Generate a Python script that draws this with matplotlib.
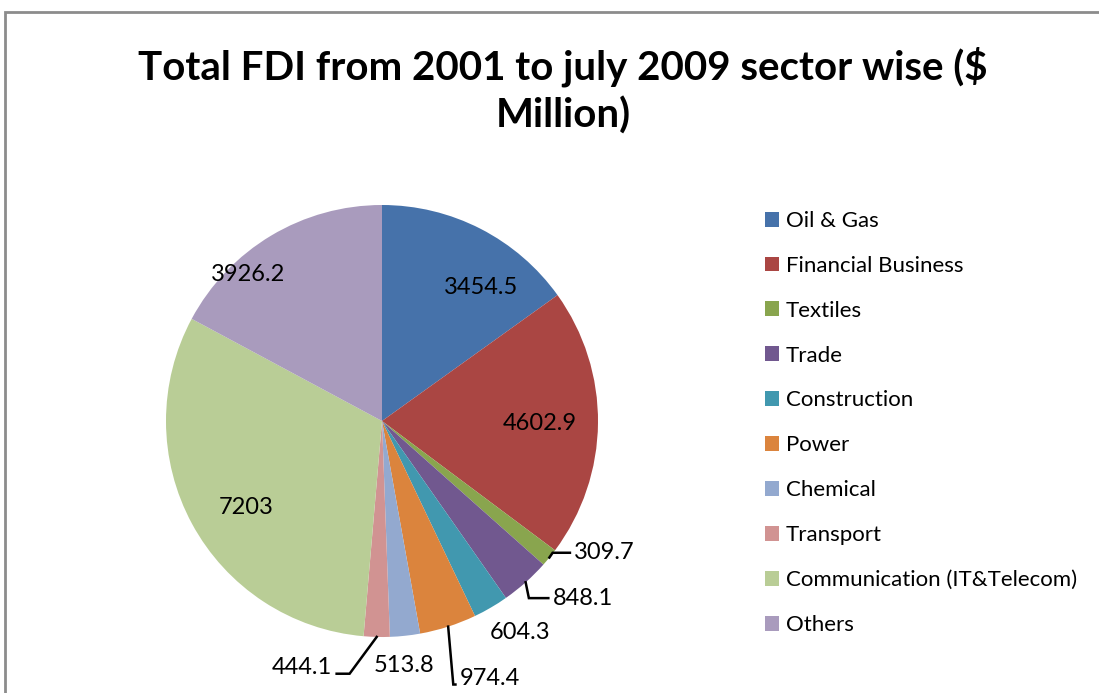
import numpy as np
import matplotlib.pyplot as plt
from matplotlib.patches import Rectangle

plt.rcParams['font.family'] = ['Lato', 'DejaVu Sans']

# data
sectors = ['Oil & Gas', 'Financial Business', 'Textiles', 'Trade', 'Construction',
           'Power', 'Chemical', 'Transport', 'Communication (IT&Telecom)', 'Others']
fdi = [3454.5, 4602.9, 309.7, 848.1, 604.3, 974.4, 513.8, 444.1, 7203, 3926.2]
value_labels = ['3454.5', '4602.9', '309.7', '848.1', '604.3', '974.4', '513.8', '444.1', '7203', '3926.2']
colors = ['#4672AA', '#AA4643', '#89A54E', '#71588F', '#4198AF',
          '#DB843D', '#93A9CF', '#D19392', '#B9CD96', '#A99BBD']

W, H = 1099, 693
fig = plt.figure(figsize=(W / 100, H / 100), dpi=100)

# chart frame (Excel style border, runs off right/bottom)
fig.patches.append(Rectangle((5 / W, -0.1), 1.2, (H - 12) / H + 0.1, transform=fig.transFigure,
                             fill=False, edgecolor='#8c8c8c', linewidth=2))

fig.text(563 / W, 1 - 67 / H, 'Total FDI from 2001 to july 2009 sector wise ($', ha='center', va='center',
         fontsize=29, fontweight='bold')
fig.text(563 / W, 1 - 116 / H, 'Million)', ha='center', va='center', fontsize=29, fontweight='bold')

# pie axes: centre (382, 421) px, radius 216 px
cx, cy, r = 382, 421, 216
ax = fig.add_axes([(cx - r) / W, (H - cy - r) / H, 2 * r / W, 2 * r / H])
wedges, _ = ax.pie(fdi, colors=colors, startangle=90, counterclock=False, radius=1,
                   wedgeprops=dict(linewidth=0))
ax.set_xlim(-1, 1)
ax.set_ylim(-1, 1)
ax.set_aspect('equal')
ax.axis('off')

# label positions in pie-radius units, alignment, and leader elbow (None = no leader)
label_xy = [(0.46, 0.62), (0.73, -0.01), (0.89, -0.61), (0.79, -0.82), (0.64, -0.98),
            (0.36, -1.19), (0.10, -1.13), (-0.23, -1.14), (-0.63, -0.40), (-0.62, 0.68)]
label_ha = ['center', 'center', 'left', 'left', 'center', 'left', 'center', 'right', 'center', 'center']
elbow_x = [None, None, 0.79, 0.68, None, 0.33, None, -0.15, None, None]
elbow_dy = [0, 0, 0, 0, 0, -0.03, 0, -0.03, 0, 0]

for i, w in enumerate(wedges):
    tx, ty = label_xy[i]
    if elbow_x[i] is not None:
        mid = np.deg2rad((w.theta1 + w.theta2) / 2)
        ax0, ay0 = np.cos(mid), np.sin(mid)
        ly = ty + elbow_dy[i]
        end = tx - 0.02 if label_ha[i] == 'left' else tx + 0.02
        ax.plot([ax0, elbow_x[i], end], [ay0, ly, ly], color='black', linewidth=1.8,
                clip_on=False, solid_joinstyle='miter')
    ax.text(tx, ty, value_labels[i], ha=label_ha[i], va='center', fontsize=17, clip_on=False)

leg = fig.legend(wedges, sectors, loc='upper left', bbox_to_anchor=(756 / W, 1 - 202 / H),
                 frameon=False, fontsize=16, handlelength=0.65, handleheight=0.65,
                 handletextpad=0.3, labelspacing=1.12, borderaxespad=0)

fig.savefig('out.png', dpi=100)
